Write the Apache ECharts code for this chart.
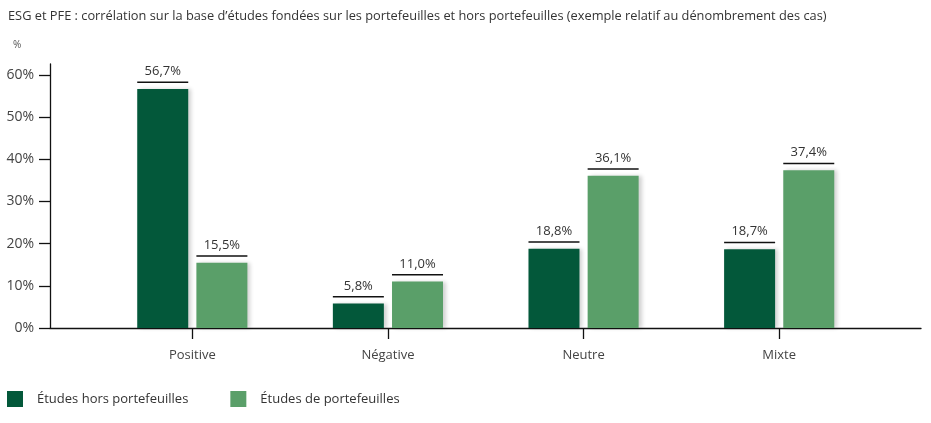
<!DOCTYPE html>
<html>
<head>
<meta charset="utf-8">
<script src="https://cdn.jsdelivr.net/npm/echarts@6/dist/echarts.min.js"></script>
<style>
  html, body { margin: 0; padding: 0; background: #fff; }
  #chart { width: 931px; height: 423px; }
</style>
</head>
<body>
<div id="chart"></div>
<script>
const categories = ["Positive", "Négative", "Neutre", "Mixte"];
const horsPortefeuilles = [56.7, 5.8, 18.8, 18.7];
const dePortefeuilles = [15.5, 11.0, 36.1, 37.4];
const seriesNames = ["Études hors portefeuilles", "Études de portefeuilles"];

const FONT = "Open Sans";
const DARK = "#03583a";
const LIGHT = "#5a9f69";
const BAR_W = 51;

const chart = echarts.init(document.getElementById("chart"), null, { renderer: "canvas" });

const fmt = (v) => v.toFixed(1).replace(".", ",") + "%";

function valueLabel() {
  return {
    show: true,
    position: "top",
    distance: 6,
    formatter: (p) => "{v|" + fmt(p.value) + "}\n{u| }",
    rich: {
      v: { fontFamily: FONT, fontSize: 13, color: "#333", lineHeight: 20, align: "center" },
      u: { width: BAR_W, height: 1.5, lineHeight: 1.5, backgroundColor: "#111", fontSize: 1 },
    },
  };
}

const barStyle = (color) => ({
  color,
  shadowColor: "rgba(0,0,0,0.18)",
  shadowBlur: 4,
  shadowOffsetX: 3,
  shadowOffsetY: 0,
});

chart.setOption({
  animation: false,
  textStyle: { fontFamily: FONT },
  title: [
    {
      text: "ESG et PFE : corrélation sur la base d’études fondées sur les portefeuilles et hors portefeuilles (exemple relatif au dénombrement des cas)",
      left: 3,
      top: 5,
      textStyle: { fontFamily: FONT, fontSize: 12.8, fontWeight: "normal", color: "#333" },
    },
    {
      text: "%",
      left: 8,
      top: 35,
      textStyle: { fontFamily: FONT, fontSize: 10, fontWeight: "normal", color: "#555" },
    },
  ],
  legend: {
    left: 7,
    top: 391,
    padding: 0,
    itemWidth: 16,
    itemHeight: 16,
    itemGap: 42,
    icon: "rect",
    textStyle: { fontFamily: FONT, fontSize: 13, color: "#333", padding: [0, 0, 0, 9] },
    data: seriesNames,
  },
  grid: [
    // frame: axis lines only
    { left: 50, right: 10, top: 64, bottom: 95 },
    // bars
    { left: 94.5, right: 54, top: 75, bottom: 95 },
  ],
  xAxis: [
    {
      gridIndex: 0,
      type: "category",
      data: categories,
      axisLine: { lineStyle: { color: "#111", width: 1.3 } },
      axisTick: { show: false },
      axisLabel: { show: false },
    },
    {
      gridIndex: 1,
      type: "category",
      data: categories,
      axisLine: { show: false },
      axisTick: { show: true, alignWithLabel: true, length: 11, lineStyle: { color: "#111", width: 1.3 } },
      axisLabel: { margin: 21, fontFamily: FONT, fontSize: 13, color: "#444" },
    },
  ],
  yAxis: [
    {
      gridIndex: 0,
      type: "value",
      axisLine: { show: true, lineStyle: { color: "#111", width: 1.3 } },
      axisTick: { show: false },
      axisLabel: { show: false },
      splitLine: { show: false },
    },
    {
      gridIndex: 1,
      type: "value",
      min: 0,
      max: 60,
      interval: 10,
      offset: 44.5,
      axisLine: { show: false },
      axisTick: { show: true, length: 11, lineStyle: { color: "#111", width: 1.3 } },
      axisLabel: {
        margin: 16,
        fontFamily: FONT,
        fontSize: 14,
        color: "#444",
        formatter: (v) => v + "%",
      },
      splitLine: { show: false },
    },
  ],
  series: [
    {
      name: seriesNames[0],
      type: "bar",
      xAxisIndex: 1,
      yAxisIndex: 1,
      data: horsPortefeuilles,
      barWidth: BAR_W,
      barGap: "16%",
      itemStyle: barStyle(DARK),
      label: valueLabel(),
    },
    {
      name: seriesNames[1],
      type: "bar",
      xAxisIndex: 1,
      yAxisIndex: 1,
      data: dePortefeuilles,
      barWidth: BAR_W,
      barGap: "16%",
      itemStyle: barStyle(LIGHT),
      label: valueLabel(),
    },
  ],
});
</script>
</body>
</html>
